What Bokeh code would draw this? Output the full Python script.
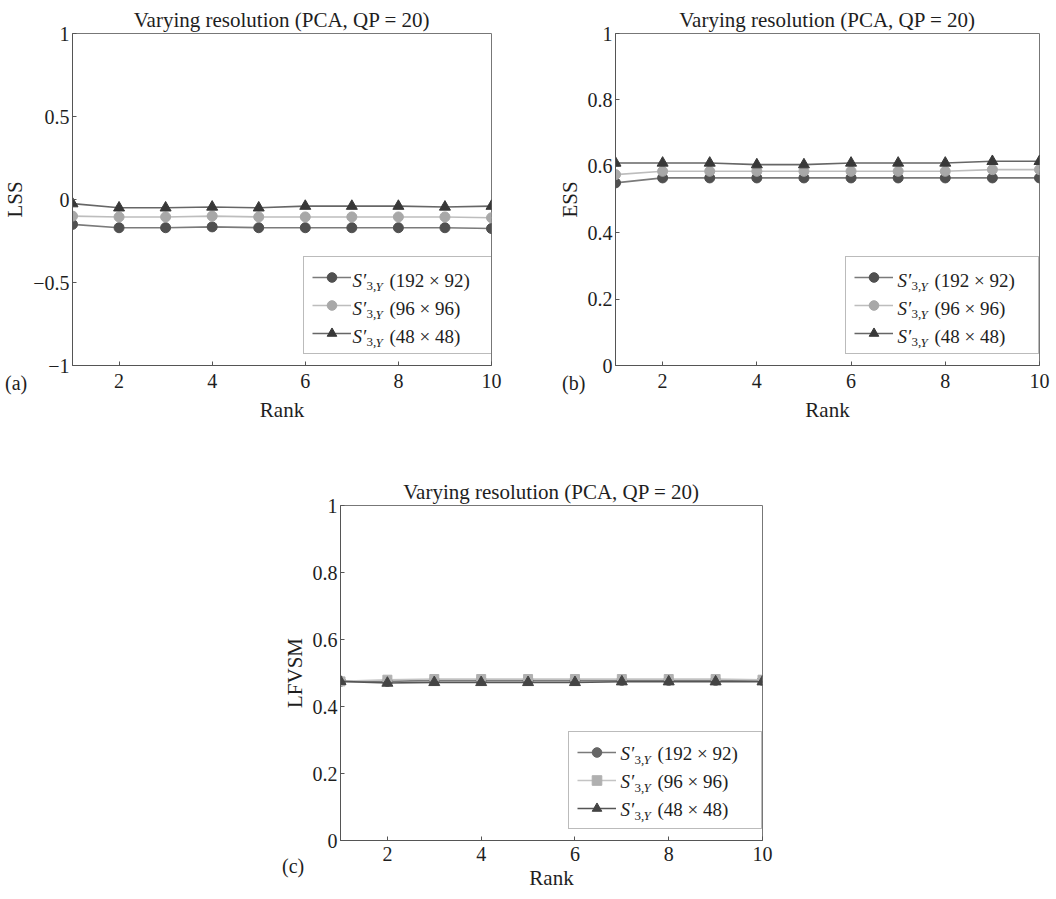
from bokeh.plotting import figure
from bokeh.models import (Range1d, FixedTicker, Legend, LegendItem, Spacer, Div,
                          CustomJSTickFormatter)
from bokeh.layouts import column, row
from bokeh.embed import file_html
from bokeh.resources import INLINE
from bokeh.core.properties import value

FONT = "Liberation Serif"

# ---------------- data ----------------
ranks = [1, 2, 3, 4, 5, 6, 7, 8, 9, 10]
res_labels = ["(192 × 92)", "(96 × 96)", "(48 × 48)"]

lss_192 = [-0.15, -0.17, -0.17, -0.165, -0.17, -0.17, -0.17, -0.17, -0.17, -0.175]
lss_96 = [-0.10, -0.105, -0.105, -0.10, -0.105, -0.105, -0.105, -0.105, -0.105, -0.11]
lss_48 = [-0.025, -0.05, -0.05, -0.045, -0.05, -0.04, -0.04, -0.04, -0.045, -0.04]

ess_192 = [0.55, 0.565, 0.565, 0.565, 0.565, 0.565, 0.565, 0.565, 0.565, 0.565]
ess_96 = [0.575, 0.585, 0.585, 0.585, 0.585, 0.585, 0.585, 0.585, 0.59, 0.59]
ess_48 = [0.61, 0.61, 0.61, 0.605, 0.605, 0.61, 0.61, 0.61, 0.615, 0.615]

lf_192 = [0.475, 0.475, 0.478, 0.478, 0.478, 0.478, 0.478, 0.478, 0.478, 0.478]
lf_96 = [0.475, 0.48, 0.482, 0.482, 0.482, 0.482, 0.482, 0.482, 0.482, 0.48]
lf_48 = [0.475, 0.47, 0.472, 0.472, 0.472, 0.472, 0.474, 0.474, 0.474, 0.474]

title_text = "Varying resolution (PCA, QP = 20)"
panel_tags = ["(a)", "(b)", "(c)"]
x_ticks = [2, 4, 6, 8, 10]
lss_ticks = [-1, -0.5, 0, 0.5, 1]
unit_ticks = [0, 0.2, 0.4, 0.6, 0.8, 1]

# styles: (marker, size, marker colour, line colour)
styles_ab = [("circle", 10, "#505050", "#7a7a7a"),
             ("circle", 10, "#a8a8a8", "#bdbdbd"),
             ("triangle", 11, "#383838", "#666666")]
styles_c = [("circle", 10, "#666666", "#7a7a7a"),
            ("square", 9, "#b0b0b0", "#c4c4c4"),
            ("triangle", 11, "#444444", "#555555")]

FMT_CODE = """
const s = Number(tick.toFixed(2)).toString();
return s.replace('-', '\\u2212');
"""

TXT = "#1e1e1e"


def make_panel(ylabel, ylim, yticks, series, styles,
               fw, fh, mbl, mbr, mbt, mbb, xl_standoff, xt_standoff):
    p = figure(width=mbl + fw + mbr, height=mbt + fh + mbb,
               min_border_left=mbl, min_border_right=mbr,
               min_border_top=mbt, min_border_bottom=mbb,
               x_range=Range1d(1, 10), y_range=Range1d(ylim[0], ylim[1]),
               output_backend="svg", toolbar_location=None, title=title_text)
    p.title.text_font = FONT
    p.title.text_font_size = "21px"
    p.title.text_font_style = "normal"
    p.title.text_color = TXT
    p.title.align = "center"
    p.title.standoff = 3

    p.grid.visible = False
    p.outline_line_color = "#777777"
    p.outline_line_width = 1
    p.background_fill_color = "white"
    p.border_fill_color = "white"

    for ax in (p.xaxis[0], p.yaxis[0]):
        ax.axis_line_color = "#555555"
        ax.major_tick_line_color = "#555555"
        ax.major_tick_in = 4
        ax.major_tick_out = 0
        ax.minor_tick_line_color = None
        ax.major_label_text_font = FONT
        ax.major_label_text_font_size = "20px"
        ax.major_label_text_color = TXT
        ax.axis_label_text_font = FONT
        ax.axis_label_text_font_size = "21px"
        ax.axis_label_text_font_style = "normal"
        ax.axis_label_text_color = TXT

    p.xaxis.ticker = FixedTicker(ticks=x_ticks)
    p.xaxis.axis_label = "Rank"
    p.xaxis.major_label_standoff = xt_standoff
    p.xaxis.axis_label_standoff = xl_standoff

    p.yaxis.ticker = FixedTicker(ticks=yticks)
    p.yaxis.formatter = CustomJSTickFormatter(code=FMT_CODE)
    p.yaxis.axis_label = ylabel
    p.yaxis.major_label_standoff = 3
    p.yaxis.axis_label_standoff = 3

    items = []
    for ys, (mk, sz, mc, lc) in zip(series, styles):
        lr = p.line(ranks, ys, line_color=lc, line_width=1.6)
        sr = p.scatter(ranks, ys, marker=mk, size=sz, fill_color=mc,
                       line_color=mc)
        items.append(LegendItem(label=" ", renderers=[lr, sr]))

    pad, gw, gh, sp, stand, lw = 8, 39, 24, 4, 5, 132
    leg_w = 2 * pad + gw + stand + lw
    leg_left = fw - leg_w - 2
    leg_bottom = 11
    leg = Legend(items=items, location=(leg_left, leg_bottom),
                 orientation="vertical", glyph_width=gw, glyph_height=gh,
                 spacing=sp, padding=pad, margin=0, label_standoff=stand,
                 label_width=lw, label_height=gh, label_text_font_size="8px",
                 border_line_color="#777777", border_line_width=1,
                 background_fill_alpha=0.0)
    p.add_layout(leg)

    # legend texts S'_{3,Y} (res), anchored at the frame centre with pixel offsets
    xc = (1 + 10) / 2.0
    yc = (ylim[0] + ylim[1]) / 2.0
    tx = leg_left + pad + gw + stand
    dx0 = tx - fw / 2.0
    for i in range(3):
        center = leg_bottom + pad + (2 - i) * (gh + sp) + gh / 2.0
        dy = fh / 2.0 - center
        pieces = [("S′", 0, 0, "italic", "19px"),
                  ("3,", 14, 6, "normal", "13px"),
                  ("Y", 23, 6, "italic", "13px"),
                  (res_labels[i], 37, 0, "normal", "19px")]
        for txt, ox, oy, style, size in pieces:
            p.text(x=[xc], y=[yc], text=[txt], x_offset=dx0 + ox, y_offset=dy + oy,
                   text_font=value(FONT), text_font_style=style,
                   text_font_size=size, text_baseline="middle",
                   text_align="left", text_color=TXT)
    return p


def tag_div(text, left, top):
    return Div(text=text, width=30, height=24,
               styles={"position": "absolute", "left": f"{left}px", "top": f"{top}px",
                       "font-family": FONT, "font-size": "20px",
                       "line-height": "24px", "color": TXT})


pa = make_panel("LSS", (-1, 1), lss_ticks, [lss_192, lss_96, lss_48], styles_ab,
                fw=425, fh=335, mbl=66, mbr=57, mbt=33, mbb=56,
                xl_standoff=7, xt_standoff=8)
pb = make_panel("ESS", (0, 1), unit_ticks, [ess_192, ess_96, ess_48], styles_ab,
                fw=424, fh=335, mbl=67, mbr=15, mbt=33, mbb=56,
                xl_standoff=7, xt_standoff=8)
pc = make_panel("LFVSM", (0, 1), unit_ticks, [lf_192, lf_96, lf_48], styles_c,
                fw=422, fh=335, mbl=66, mbr=20, mbt=81, mbb=52,
                xl_standoff=2, xt_standoff=6)

layout = column(row(pa, pb), row(Spacer(width=274, height=468), pc),
                tag_div(panel_tags[0], 0, 366),
                tag_div(panel_tags[1], 557, 366),
                tag_div(panel_tags[2], 277, 849))

open("out.html", "w").write(file_html(layout, INLINE))
